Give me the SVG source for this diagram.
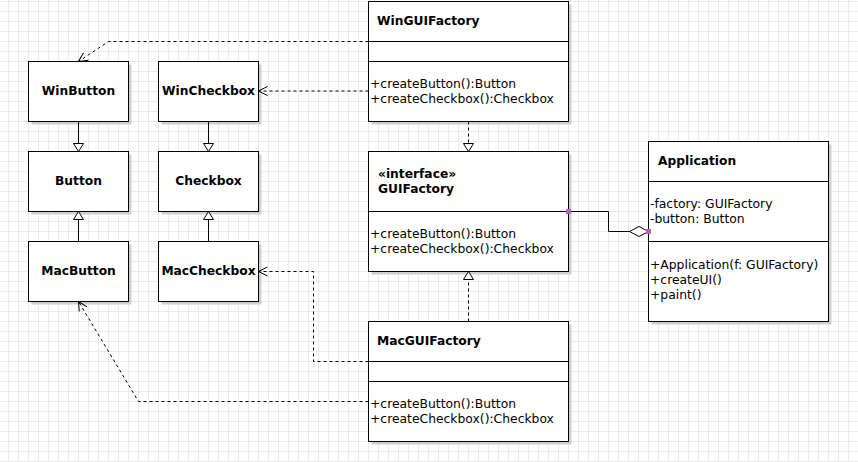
<svg xmlns="http://www.w3.org/2000/svg" width="858" height="462" viewBox="0 0 858 462">
<defs>
<pattern id="grid" x="8" y="1" width="10" height="10" patternUnits="userSpaceOnUse">
<path d="M0.5,0 V10 M0,0.5 H10" stroke="#ebebeb" stroke-width="1" fill="none"/>
</pattern>
<marker id="open" markerUnits="userSpaceOnUse" markerWidth="14" markerHeight="14" refX="11" refY="6" orient="auto">
<path d="M2,1.5 L11,6 L2,10.5" fill="none" stroke="#000" stroke-width="1"/>
</marker>
<marker id="tri" markerUnits="userSpaceOnUse" markerWidth="14" markerHeight="14" refX="10" refY="6" orient="auto">
<path d="M2,1 L10,6 L2,11 Z" fill="#fff" stroke="#000" stroke-width="1"/>
</marker>
<marker id="dia" markerUnits="userSpaceOnUse" markerWidth="22" markerHeight="14" refX="20" refY="6" orient="auto">
<path d="M1,6 L10.5,1 L20,6 L10.5,11 Z" fill="#fff" stroke="#000" stroke-width="1"/>
</marker>
</defs>
<style>
.sh{fill:#d0d0d0;stroke:none}
.bx{fill:#fff;stroke:#000;stroke-width:1}
.dv{stroke:#000;stroke-width:1;fill:none}
.t{font-family:"DejaVu Sans","Noto Sans",sans-serif;font-size:12.35px;fill:#000}
.b{font-weight:bold;font-size:12.25px}
.c{text-anchor:middle}
.ln{fill:none;stroke:#000;stroke-width:1}
.da{stroke-dasharray:3,3}
.pt{fill:#b366b8}
</style>
<rect width="858" height="462" fill="#fff"/>
<rect width="858" height="462" fill="url(#grid)"/>

<g id="WinButton">
<rect class="sh" x="31.5" y="64.5" width="100" height="60"/>
<rect class="bx" x="28.5" y="61.5" width="100" height="60"/>
<text class="t b c" x="78.5" y="95">WinButton</text>
</g>
<g id="WinCheckbox">
<rect class="sh" x="161.5" y="64.5" width="100" height="60"/>
<rect class="bx" x="158.5" y="61.5" width="100" height="60"/>
<text class="t b c" x="208.5" y="95">WinCheckbox</text>
</g>
<g id="Button">
<rect class="sh" x="31.5" y="154.5" width="100" height="60"/>
<rect class="bx" x="28.5" y="151.5" width="100" height="60"/>
<text class="t b c" x="78.5" y="185">Button</text>
</g>
<g id="Checkbox">
<rect class="sh" x="161.5" y="154.5" width="100" height="60"/>
<rect class="bx" x="158.5" y="151.5" width="100" height="60"/>
<text class="t b c" x="208.5" y="185">Checkbox</text>
</g>
<g id="MacButton">
<rect class="sh" x="31.5" y="244.5" width="100" height="60"/>
<rect class="bx" x="28.5" y="241.5" width="100" height="60"/>
<text class="t b c" x="78.5" y="275">MacButton</text>
</g>
<g id="MacCheckbox">
<rect class="sh" x="161.5" y="244.5" width="100" height="60"/>
<rect class="bx" x="158.5" y="241.5" width="100" height="60"/>
<text class="t b c" x="208.5" y="275">MacCheckbox</text>
</g>

<g id="WinGUIFactory">
<rect class="sh" x="371.5" y="4.5" width="200" height="120"/>
<rect class="bx" x="368.5" y="1.5" width="200" height="120"/>
<path class="dv" d="M368.5,41.5 H568.5 M368.5,61.5 H568.5"/>
<text class="t b" x="377" y="25">WinGUIFactory</text>
<text class="t" x="370" y="88">+createButton():Button</text>
<text class="t" x="370" y="103">+createCheckbox():Checkbox</text>
</g>
<g id="GUIFactory">
<rect class="sh" x="371.5" y="154.5" width="200" height="120"/>
<rect class="bx" x="368.5" y="151.5" width="200" height="120"/>
<path class="dv" d="M368.5,211.5 H568.5"/>
<text class="t b" x="378" y="178">«interface»</text>
<text class="t b" x="378" y="193">GUIFactory</text>
<text class="t" x="370" y="238">+createButton():Button</text>
<text class="t" x="370" y="253">+createCheckbox():Checkbox</text>
</g>
<g id="MacGUIFactory">
<rect class="sh" x="371.5" y="324.5" width="200" height="120"/>
<rect class="bx" x="368.5" y="321.5" width="200" height="120"/>
<path class="dv" d="M368.5,361.5 H568.5 M368.5,381.5 H568.5"/>
<text class="t b" x="377" y="345">MacGUIFactory</text>
<text class="t" x="370" y="408">+createButton():Button</text>
<text class="t" x="370" y="423">+createCheckbox():Checkbox</text>
</g>
<g id="Application">
<rect class="sh" x="651.5" y="144.5" width="180" height="180"/>
<rect class="bx" x="648.5" y="141.5" width="180" height="180"/>
<path class="dv" d="M648.5,181.5 H828.5 M648.5,241.5 H828.5"/>
<text class="t b" x="658" y="165">Application</text>
<text class="t" x="650" y="208">-factory: GUIFactory</text>
<text class="t" x="650" y="223">-button: Button</text>
<text class="t" x="650" y="269">+Application(f: GUIFactory)</text>
<text class="t" x="650" y="284">+createUI()</text>
<text class="t" x="650" y="299">+paint()</text>
</g>

<g id="connectors">
<path class="ln da" d="M368.5,41.5 H108.5 L78.5,61.5" marker-end="url(#open)"/>
<path class="ln da" d="M368.5,91 H258.5" marker-end="url(#open)"/>
<path class="ln" d="M78.5,121.5 V151.5" marker-end="url(#tri)"/>
<path class="ln" d="M208.5,121.5 V151.5" marker-end="url(#tri)"/>
<path class="ln" d="M78.5,241.5 V211.5" marker-end="url(#tri)"/>
<path class="ln" d="M208.5,241.5 V211.5" marker-end="url(#tri)"/>
<path class="ln da" d="M468.5,121.5 V151.5" marker-end="url(#tri)"/>
<path class="ln da" d="M468.5,321.5 V271.5" marker-end="url(#tri)"/>
<path class="ln da" d="M368.5,361.5 H313.5 V271.5 H258.5" marker-end="url(#open)"/>
<path class="ln da" d="M368.5,401.5 H138.5 L78.5,301.5" marker-end="url(#open)"/>
<path class="ln" d="M568.5,211.5 H608.5 V231.5 H648.5" marker-end="url(#dia)"/>
<rect class="pt" x="566" y="209" width="5" height="5"/>
<rect class="pt" x="646" y="229" width="5" height="5"/>
</g>
</svg>
